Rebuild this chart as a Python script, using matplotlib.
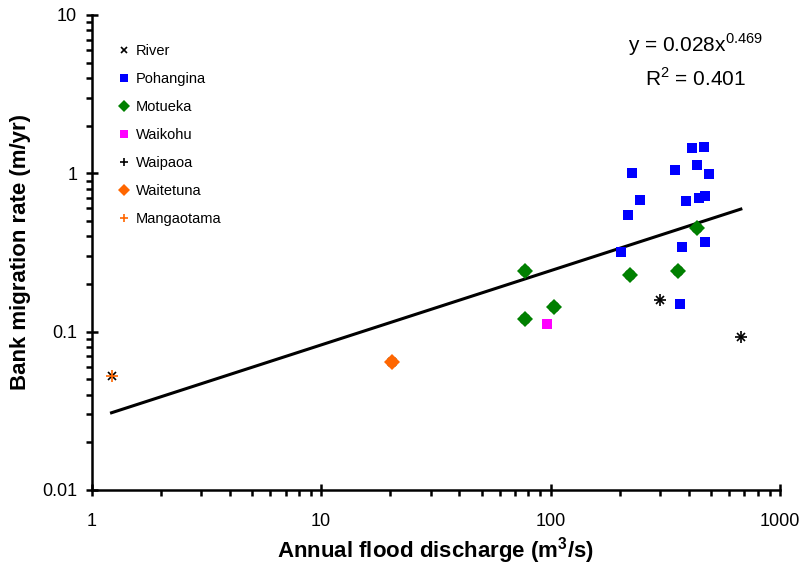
import matplotlib

matplotlib.use("Agg")
import matplotlib.pyplot as plt
import numpy as np
from matplotlib.ticker import FixedLocator, LogLocator, NullFormatter

plt.rcParams.update(
    {
        "font.family": ["Liberation Sans", "DejaVu Sans"],
        "mathtext.fontset": "custom",
        "mathtext.rm": "Liberation Sans",
        "mathtext.bf": "Liberation Sans:bold",
    }
)

# discharge (m3/s) and bank migration rate (m/yr)
pohangina_q = [414, 464, 227, 347, 436, 491, 245, 390, 443, 472, 218, 203, 373, 472, 367]
pohangina_r = [1.44, 1.47, 1.01, 1.05, 1.125, 0.987, 0.676, 0.667, 0.703, 0.72, 0.548, 0.32, 0.34, 0.367, 0.149]
motueka_q = [77.6, 221, 361, 435, 104, 77.6]
motueka_r = [0.242, 0.227, 0.242, 0.454, 0.143, 0.120]
waikohu_q = [96.6]
waikohu_r = [0.111]
waipaoa_q = [300, 675]
waipaoa_r = [0.158, 0.093]
waitetuna_q = [20.4]
waitetuna_r = [0.064]
mangaotama_q = [1.22]
mangaotama_r = [0.0527]

# power-law fit printed on the chart
fit_a = 0.028
fit_b = 0.469
fit_r2 = 0.401

river_q = pohangina_q + motueka_q + waikohu_q + waipaoa_q + waitetuna_q + mangaotama_q
river_r = pohangina_r + motueka_r + waikohu_r + waipaoa_r + waitetuna_r + mangaotama_r

fig = plt.figure(figsize=(8.01, 5.70), dpi=100)
ax = fig.add_axes([0.1145, 0.1404, 0.8593, 0.8333])
ax.set_xscale("log")
ax.set_yscale("log")
ax.set_xlim(1, 1000)
ax.set_ylim(0.01, 10)

# all rivers as small black crosses, the individual rivers drawn on top
ax.plot(river_q, river_r, "x", color="black", ms=6, mew=1.2, ls="none", label="River", zorder=3)
ax.plot(pohangina_q, pohangina_r, "s", color="#0000FF", ms=7, mew=0, ls="none", label="Pohangina", zorder=4)
ax.plot(motueka_q, motueka_r, "D", color="#008000", ms=8, mew=0, ls="none", label="Motueka", zorder=4)
ax.plot(waikohu_q, waikohu_r, "s", color="#FF00FF", ms=7, mew=0, ls="none", label="Waikohu", zorder=4)
ax.plot(waipaoa_q, waipaoa_r, "+", color="black", ms=8, mew=1.2, ls="none", label="Waipaoa", zorder=4)
ax.plot(waitetuna_q, waitetuna_r, "D", color="#FF6600", ms=8, mew=0, ls="none", label="Waitetuna", zorder=4)
ax.plot(mangaotama_q, mangaotama_r, "+", color="#FF6600", ms=8, mew=1.2, ls="none", label="Mangaotama", zorder=4)

q_line = np.linspace(min(river_q), max(river_q), 200)
ax.plot(q_line, fit_a * q_line ** fit_b, color="black", lw=2.2, zorder=2)

ax.text(
    0.877, 0.937,
    rf"y = {fit_a:.3f}x$^{{{fit_b:.3f}}}$",
    transform=ax.transAxes, ha="center", va="center", fontsize=15,
)
ax.text(
    0.877, 0.867,
    rf"R$^2$ = {fit_r2:.3f}",
    transform=ax.transAxes, ha="center", va="center", fontsize=15,
)

leg = ax.legend(
    loc="upper left",
    bbox_to_anchor=(0.032, 0.952),
    frameon=False,
    fontsize=10.5,
    markerscale=0.75,
    handlelength=0.6,
    handletextpad=0.5,
    labelspacing=0.97,
    borderaxespad=0,
)

for side in ("top", "right"):
    ax.spines[side].set_visible(False)
for side in ("left", "bottom"):
    ax.spines[side].set_linewidth(1.8)

ax.xaxis.set_major_locator(FixedLocator([1, 10, 100, 1000]))
ax.yaxis.set_major_locator(FixedLocator([0.01, 0.1, 1, 10]))
ax.set_xticklabels(["1", "10", "100", "1000"])
ax.set_yticklabels(["0.01", "0.1", "1", "10"])
ax.xaxis.set_minor_locator(LogLocator(base=10, subs=np.arange(2, 10)))
ax.yaxis.set_minor_locator(LogLocator(base=10, subs=np.arange(2, 10)))
ax.xaxis.set_minor_formatter(NullFormatter())
ax.yaxis.set_minor_formatter(NullFormatter())
ax.tick_params(which="major", direction="inout", length=9, width=1.8, labelsize=13)
ax.tick_params(axis="x", which="major", pad=12)
ax.tick_params(axis="y", which="major", pad=6)
ax.tick_params(which="minor", direction="out", length=4, width=1.8)

ax.set_xlabel(r"Annual flood discharge (m$^\mathbf{3}$/s)", fontsize=16, fontweight="bold", labelpad=4)
ax.set_ylabel("Bank migration rate (m/yr)", fontsize=16, fontweight="bold", labelpad=8)

fig.savefig("out.png", dpi=100, facecolor="white")
